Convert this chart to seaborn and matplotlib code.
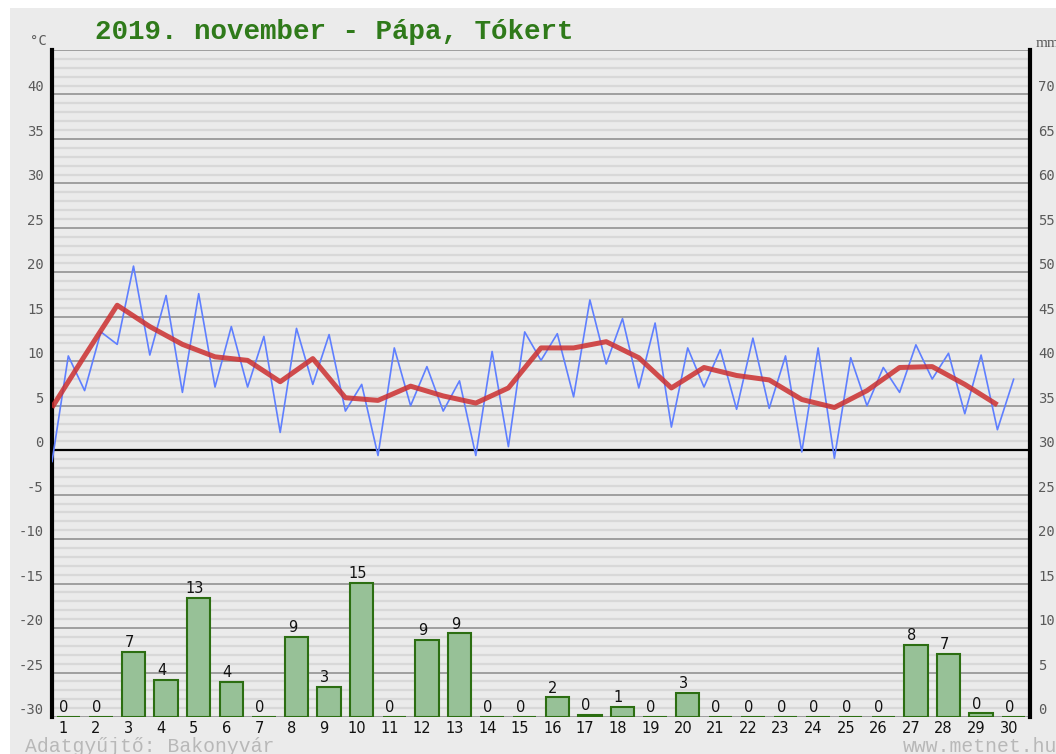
import numpy as np
import pandas as pd
import matplotlib
matplotlib.use("Agg")
import matplotlib.pyplot as plt
from matplotlib.patches import Rectangle
from matplotlib.ticker import MultipleLocator
import seaborn as sns

# ---------------- data ----------------
days = list(range(1, 31))
precip_mm = [0, 0, 7.3, 4.2, 13.4, 3.9, 0, 9.0, 3.4, 15.1,
             0, 8.7, 9.4, 0, 0, 2.2, 0.2, 1.1, 0, 2.7,
             0, 0, 0, 0, 0, 0, 8.1, 7.1, 0.4, 0]
daily_mean = [4.8, 10.6, 16.3, 13.9, 11.9, 10.5, 10.1, 7.7, 10.3, 5.9,
              5.6, 7.2, 6.1, 5.3, 7.0, 11.5, 11.5, 12.2, 10.4, 7.0,
              9.3, 8.4, 7.9, 5.7, 4.8, 6.7, 9.3, 9.4, 7.4, 5.1]
temp_halfday = [-1.3, 10.6, 6.7, 13.3, 11.9, 20.7, 10.7, 17.4, 6.5, 17.6,
                7.1, 13.9, 7.1, 12.8, 2.0, 13.7, 7.4, 13.0, 4.4, 7.4,
                -0.6, 11.5, 5.0, 9.4, 4.4, 7.8, -0.6, 11.1, 0.4, 13.3,
                10.1, 13.1, 6.0, 16.9, 9.7, 14.8, 7.0, 14.3, 2.6, 11.5,
                7.1, 11.3, 4.6, 12.6, 4.7, 10.6, -0.2, 11.5, -0.9, 10.4,
                5.0, 9.3, 6.5, 11.85, 8.0, 10.9, 4.1, 10.7, 2.3, 8.0]
temp_ticks = list(range(-30, 46, 5))
temp_tick_labels = [str(v) for v in range(-30, 41, 5)] + [""]
mm_ticks = list(range(0, 76, 5))
mm_tick_labels = [str(v) for v in range(0, 71, 5)] + [""]
title = "2019. november - Pápa, Tókert"
footer_left = "Adatgyűjtő: Bakonyvár"
footer_right = "www.metnet.hu"

# ---------------- style ----------------
sns.set_theme(style="white")
plt.rcParams["font.family"] = ["DejaVu Sans"]
BG = "#ebebeb"

W_PX, H_PX = 1056, 754
fig = plt.figure(figsize=(W_PX / 100, H_PX / 100), dpi=100, facecolor=BG)
# white border strips (top / left) like the original image
fig.patches.append(Rectangle((0, 1 - 8 / H_PX), 1, 8 / H_PX, transform=fig.transFigure,
                             facecolor="white", edgecolor="none", zorder=-10))
fig.patches.append(Rectangle((0, 0), 10 / W_PX, 1, transform=fig.transFigure,
                             facecolor="white", edgecolor="none", zorder=-10))

left, right, top, bottom = 52, 1030, 50, 717
ax = fig.add_axes([left / W_PX, 1 - bottom / H_PX, (right - left) / W_PX, (bottom - top) / H_PX])
ax.set_facecolor(BG)

# temperature lines
t_half = np.arange(len(temp_halfday)) * 0.5
t_day = np.arange(len(daily_mean)) * 1.0
df_half = pd.DataFrame({"t": t_half, "temp": temp_halfday})
df_day = pd.DataFrame({"t": t_day, "temp": daily_mean})
sns.lineplot(data=df_half, x="t", y="temp", ax=ax, color="#5f7fff", lw=1.2, zorder=3)
sns.lineplot(data=df_day, x="t", y="temp", ax=ax, color="#cc3030", lw=3.6, alpha=0.85,
             zorder=4, solid_capstyle="butt")

ax.set_xlim(0, 30)
ax.set_ylim(-30, 45)
ax.yaxis.set_minor_locator(MultipleLocator(1))
ax.set_yticks(temp_ticks)
ax.set_yticklabels(temp_tick_labels, family="DejaVu Sans Mono",
                   fontsize=10, color="#5a5a5a")
for lab in ax.get_yticklabels():
    lab.set_verticalalignment("bottom")
ax.grid(which="minor", axis="y", color="#d8d8d8", lw=1.6, zorder=0)
ax.grid(which="major", axis="y", color="#9e9e9e", lw=1.4, zorder=0)
ax.grid(which="both", axis="x", visible=False)
ax.set_axisbelow(True)
ax.axhline(0, color="black", lw=1.6, zorder=2)
ax.tick_params(axis="y", which="both", length=0, pad=6)
ax.set_xlabel("")
ax.set_ylabel("")

# precipitation bars on the mm axis
ax2 = ax.twinx()
bar_x = [d - 0.5 for d in days]
df_p = pd.DataFrame({"x": bar_x, "mm": precip_mm})
sns.barplot(data=df_p, x="x", y="mm", native_scale=True, ax=ax2, color="#97c197",
            edgecolor="#2c6e12", linewidth=1.5, width=0.72, saturation=1, zorder=3)
ax2.set_ylim(0, 75)
ax2.set_xlim(0, 30)
ax2.set_yticks(mm_ticks)
ax2.set_yticklabels(mm_tick_labels, family="DejaVu Sans Mono",
                    fontsize=10, color="#5a5a5a")
for lab in ax2.get_yticklabels():
    lab.set_verticalalignment("bottom")
ax2.tick_params(axis="y", length=0, pad=6)
ax2.set_xlabel("")
ax2.set_ylabel("")
ax2.grid(False)

for xv, p in zip(bar_x, precip_mm):
    ax2.text(xv - 0.13, p + 0.55, f"{int(round(p))}", ha="center", va="baseline",
             fontsize=10.5, color="#111111")

# day labels
ax.set_xticks([xv - 0.15 for xv in bar_x])
ax.set_xticklabels([str(d) for d in days], fontsize=10.5, color="#111111")
ax.tick_params(axis="x", length=0, pad=3)
ax2.tick_params(axis="x", length=0)

for a in (ax, ax2):
    for s in ("top", "bottom", "left", "right"):
        a.spines[s].set_visible(False)
ax.spines["left"].set_visible(True)
ax.spines["left"].set_color("black")
ax.spines["left"].set_linewidth(3)
ax2.spines["right"].set_visible(True)
ax2.spines["right"].set_color("black")
ax2.spines["right"].set_linewidth(3)

# unit labels
ax.text(-0.005, 1.003, "°C", transform=ax.transAxes, ha="right", va="bottom",
        family="DejaVu Sans Mono", fontsize=10, color="#5a5a5a")
ax.text(1.006, 1.0, "mm", transform=ax.transAxes, ha="left", va="bottom",
        family="Liberation Serif", fontsize=11, color="#5a5a5a")

# title and footers
fig.text(95 / W_PX, 1 - 39 / H_PX, title, family="Liberation Mono", fontweight="bold",
         fontsize=19.8, color="#2f7a1a", ha="left", va="baseline")
fig.text(25 / W_PX, 1 - 752 / H_PX, footer_left, family="Liberation Mono",
         fontsize=14.2, color="#b8b8b8", ha="left", va="baseline")
fig.text(903 / W_PX, 1 - 752 / H_PX, footer_right, family="Liberation Mono",
         fontsize=14.2, color="#b8b8b8", ha="left", va="baseline")

fig.savefig("out.png", dpi=100, facecolor=BG)
